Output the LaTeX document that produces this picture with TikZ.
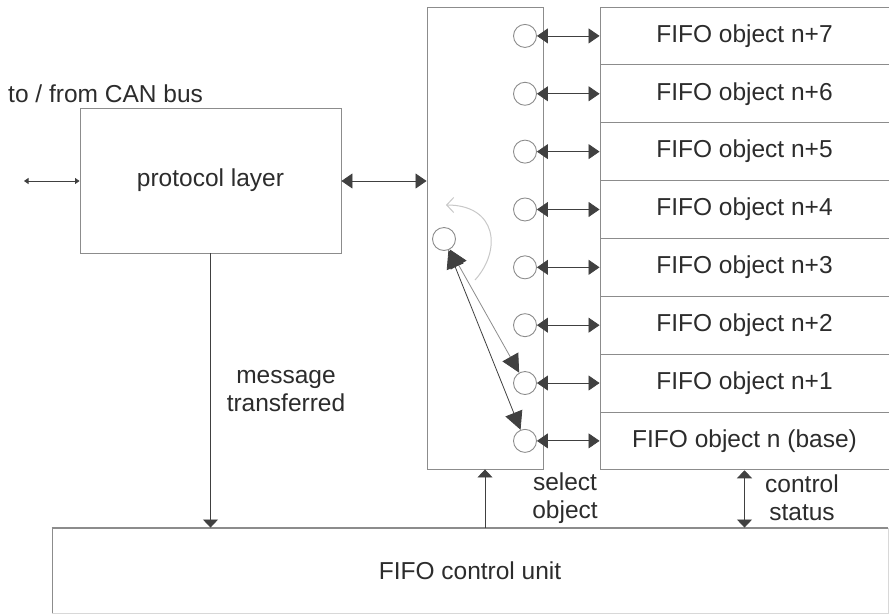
\documentclass[tikz,border=0pt]{standalone}
\usepackage{fontspec}
\setmainfont{Liberation Sans}
\usetikzlibrary{arrows.meta}
\definecolor{boxgray}{HTML}{8C8C8C}
\definecolor{linegray}{HTML}{404040}
\definecolor{txtgray}{HTML}{2C2C2C}
\definecolor{curvegray}{HTML}{C8C8C8}
\definecolor{lightedge}{HTML}{D8D8D8}
\begin{document}
\begin{tikzpicture}[x=1pt,y=-1pt,
  font=\fontsize{24.5}{28}\selectfont, text=txtgray,
  box/.style={draw=boxgray, line width=0.9pt, rectangle, inner sep=0pt, align=center},
  port/.style={draw=boxgray, line width=0.9pt, circle, minimum size=23pt, inner sep=0pt, fill=white},
  conn/.style={draw=linegray, line width=0.8pt},
  bigtip/.style={{Triangle[length=11pt,width=15pt]}-{Triangle[length=11pt,width=15pt]}},
  smalltip/.style={{Triangle[length=4.5pt,width=6pt]}-{Triangle[length=4.5pt,width=6pt]}},
  vtip/.style={-{Triangle[length=8pt,width=15pt]}},
  vvtip/.style={{Triangle[length=8pt,width=15pt]}-{Triangle[length=8pt,width=15pt]}},
  diagtip/.style={{Triangle[length=18pt,width=18pt,color=linegray]}-{Triangle[length=18pt,width=18pt,color=linegray]}},
  lbl/.style={align=center, inner sep=0pt}
]
\useasboundingbox (0,0) rectangle (889,614);
\fill[white] (0,0) rectangle (889,614);

% main blocks
\node[box, minimum width=261pt, minimum height=145pt] (prot) at (210.5,180.5) {protocol layer};
\node[box, minimum width=116pt, minimum height=462pt] (sw) at (485,238) {};
\node[box, minimum width=836pt, minimum height=85pt] (ctrl) at (470,570.5) {FIFO control unit};
\draw[lightedge, line width=1pt] (ctrl.south west) -- (ctrl.south east) -- (ctrl.north east);
\draw[boxgray, line width=1.2pt] (ctrl.north west) -- (ctrl.north east);

% FIFO object rows
\foreach \i/\t in {0/n+7,1/n+6,2/n+5,3/n+4,4/n+3,5/n+2,6/n+1}{
  \node[box, minimum width=289pt, minimum height=57.85pt] (row\i) at (744.5,{7+57.85*\i+28.925}) {FIFO object \t};
}
\node[box, minimum width=289pt, minimum height=57.85pt] (row7) at (744.5,{7+57.85*7+28.925}) {FIFO object n (base)};

% ports
\foreach \i in {0,...,7}{
  \node[port] (p\i) at (525,{7+57.85*\i+28.925}) {};
  \draw[conn, bigtip] (p\i.east) -- (row\i.west);
}
\node[port] (pl) at (444,239) {};

% rotating selector arrow (light)
\coordinate (cs) at (475,280);
\coordinate (ce) at (446,205);
\draw[draw=curvegray, line width=1pt, -{Straight Barb[length=7pt,width=15pt]}]
  (cs) .. controls (502,250) and (497,205) .. (ce);

% selector connections
\draw[draw=boxgray, line width=0.8pt, diagtip] (pl) -- (p6);
\draw[conn, diagtip] (pl) -- (p7);

% protocol connections
\coordinate (can) at (24,181);
\draw[conn, smalltip] (can) -- (can -| prot.west);
\draw[conn, bigtip] (prot.east |- can) -- (sw.west |- can);
\draw[conn, vtip] (prot.south) -- (prot.south |- ctrl.north);
\draw[conn, vtip] (ctrl.north -| sw.south) -- (sw.south);
\draw[conn, vvtip] (row7.south) -- (row7.south |- ctrl.north);

% labels
\node[lbl, anchor=west] (canlbl) at (8,94) {to / from CAN bus};
\node[lbl] (msg) at (286,391) {message\\transferred};
\node[lbl] (sel) at (565,498) {select\\object};
\node[lbl] (cst) at (802,498) {control\\status};
\end{tikzpicture}
\end{document}
